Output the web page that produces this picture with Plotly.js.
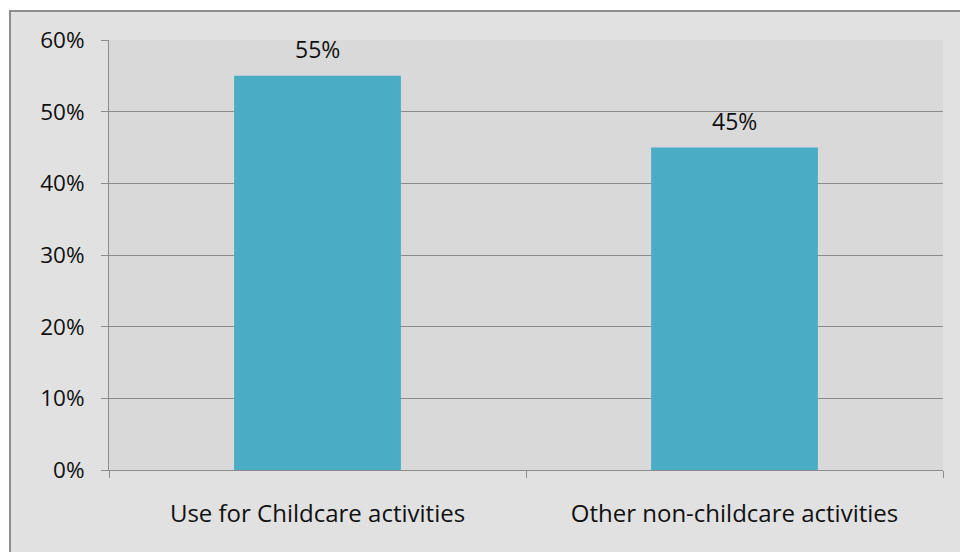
<!DOCTYPE html>
<html>
<head>
<meta charset="utf-8">
<script src="https://cdn.plot.ly/plotly-3.0.1.min.js"></script>
<style>
  html, body { margin: 0; padding: 0; background: #ffffff; width: 960px; height: 552px; overflow: hidden; }
  #frame { position: absolute; left: 9px; top: 10px; width: 980px; height: 580px;
           background: #e1e1e1; border-left: 2px solid #8e8e8e; border-top: 2px solid #8e8e8e; }
  #chart { position: absolute; left: 0; top: 0; width: 960px; height: 552px; }
</style>
</head>
<body>
<div id="frame"></div>
<div id="chart"></div>
<script>
// Share of time by activity type
const categories = ['Use for Childcare activities', 'Other non-childcare activities'];
const shares = [0.55, 0.45];
const yTickValues = [0, 0.1, 0.2, 0.3, 0.4, 0.5, 0.6];

const fontFamily = '"Open Sans", "Noto Sans", sans-serif';
const textColor = '#111111';
const gridColor = '#8c8c8c';

const bars = {
  type: 'bar',
  x: categories,
  y: shares,
  width: 0.4,
  marker: { color: '#4bacc6', line: { width: 0 } },
  hoverinfo: 'skip'
};

// Value labels sit above each bar
const labels = categories.map((c, i) => ({
  x: c,
  y: shares[i],
  xref: 'x',
  yref: 'y',
  text: Math.round(shares[i] * 100) + '%',
  showarrow: false,
  yanchor: 'bottom',
  yshift: 9,
  font: { family: fontFamily, size: 23, color: textColor }
}));

const layout = {
  width: 960,
  height: 552,
  margin: { l: 109, r: 17, t: 40, b: 82 },
  paper_bgcolor: 'rgba(0,0,0,0)',
  plot_bgcolor: '#d9d9d9',
  showlegend: false,
  bargap: 0.6,
  font: { family: fontFamily, size: 22, color: textColor },
  xaxis: {
    type: 'category',
    tickson: 'boundaries',
    ticks: 'outside',
    ticklen: 7,
    tickcolor: gridColor,
    tickwidth: 1,
    showline: true,
    linecolor: gridColor,
    linewidth: 1,
    showgrid: false,
    ticklabelstandoff: 22,
    tickfont: { family: fontFamily, size: 24, color: textColor },
    fixedrange: true
  },
  yaxis: {
    range: [0, 0.6],
    tickvals: yTickValues,
    tickformat: '.0%',
    ticks: 'outside',
    ticklen: 7,
    tickcolor: gridColor,
    tickwidth: 1,
    showline: true,
    linecolor: gridColor,
    linewidth: 1,
    showgrid: true,
    gridcolor: gridColor,
    gridwidth: 1,
    zeroline: false,
    ticklabelstandoff: 12,
    tickfont: { family: fontFamily, size: 22.5, color: textColor },
    fixedrange: true
  },
  annotations: labels
};

Plotly.newPlot('chart', [bars], layout, { displayModeBar: false, staticPlot: true });
</script>
</body>
</html>
